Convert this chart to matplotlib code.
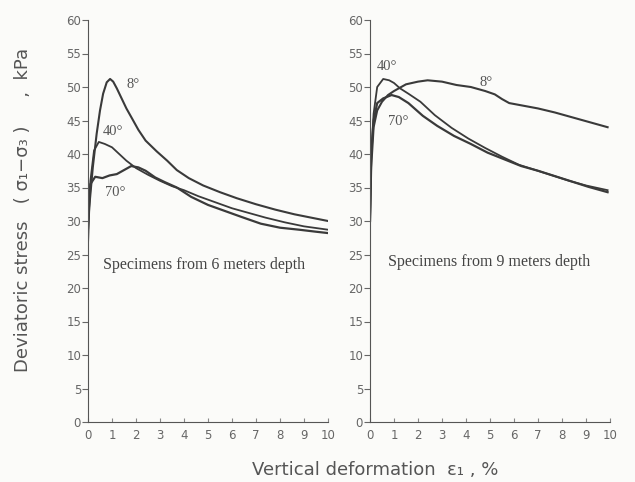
import matplotlib.pyplot as plt

# specimens from 6 m depth
strain_6m_8 = [0, 0.05, 0.2, 0.36, 0.5, 0.63, 0.78, 0.92, 1.05, 1.2, 1.4, 1.6, 1.82, 2.1, 2.4, 2.86,
               3.3, 3.7, 4.2, 4.8, 5.5, 6.2, 7.0, 7.8, 8.6, 9.3, 10]
stress_6m_8 = [27, 32, 38, 43, 46.5, 49, 50.7, 51.2, 50.8, 49.8, 48.3, 46.8, 45.4, 43.6, 42.0, 40.4,
               39.0, 37.6, 36.4, 35.3, 34.3, 33.4, 32.5, 31.7, 31.0, 30.5, 30.0]

strain_6m_40 = [0, 0.1, 0.25, 0.45, 0.7, 1.0, 1.3, 1.6, 2.0, 2.5, 3.0, 3.5, 4.0, 4.6, 5.3, 6.0,
                6.7, 7.4, 8.2, 9.0, 10]
stress_6m_40 = [30, 36, 40.5, 41.8, 41.5, 41.0, 40.0, 39.0, 37.9, 36.9, 36.0, 35.2, 34.6, 33.7, 32.8, 31.9,
                31.2, 30.5, 29.8, 29.2, 28.7]

strain_6m_70 = [0, 0.1, 0.3, 0.6, 0.9, 1.2, 1.5, 1.8, 2.1, 2.4, 2.8, 3.2, 3.7, 4.3, 5.0, 5.7,
                6.4, 7.2, 8.0, 8.8, 9.5, 10]
stress_6m_70 = [29, 35.5, 36.6, 36.4, 36.8, 37.0, 37.6, 38.2, 38.0, 37.5, 36.5, 35.8, 35.0, 33.6, 32.4, 31.5,
                30.6, 29.6, 29.0, 28.7, 28.4, 28.2]

# specimens from 9 m depth
strain_9m_8 = [0, 0.05, 0.15, 0.3, 0.5, 0.75, 1.0, 1.5, 2.0, 2.4, 3.0, 3.6, 4.2, 4.8, 5.2, 5.5,
               5.8, 6.4, 7.0, 7.7, 8.4, 9.1, 9.9]
stress_9m_8 = [30, 38, 44, 46.5, 47.8, 48.8, 49.4, 50.4, 50.8, 51.0, 50.8, 50.3, 50.0, 49.4, 48.9, 48.2,
               47.6, 47.2, 46.8, 46.2, 45.5, 44.8, 44.0]

strain_9m_40 = [0, 0.05, 0.15, 0.3, 0.55, 0.8, 1.0, 1.25, 1.6, 2.1, 2.7, 3.4, 4.1, 4.8, 5.5, 6.2,
                6.9, 7.6, 8.3, 9.0, 9.9]
stress_9m_40 = [30, 40, 46, 50.0, 51.2, 51.0, 50.6, 49.8, 49.0, 47.8, 45.8, 43.9, 42.3, 40.9, 39.6, 38.4,
                37.6, 36.8, 36.0, 35.3, 34.6]

strain_9m_70 = [0, 0.05, 0.15, 0.3, 0.55, 0.9, 1.2, 1.6, 2.2, 2.8, 3.5, 4.2, 4.9, 5.6, 6.3, 7.0,
                7.7, 8.4, 9.1, 9.9]
stress_9m_70 = [30, 40, 45, 47.6, 48.3, 48.8, 48.5, 47.6, 45.7, 44.2, 42.7, 41.5, 40.2, 39.2, 38.2, 37.5,
                36.7, 35.9, 35.1, 34.3]

x_ticks = list(range(0, 11))
y_ticks = list(range(0, 61, 5))

line_col = '#3a3a3a'
text_col = '#555555'

fig = plt.figure(figsize=(6.35, 4.82), dpi=100)
fig.patch.set_facecolor('#fbfbf9')

ax1 = fig.add_axes([88 / 635, 1 - 422 / 482, 240 / 635, 402 / 482])
ax2 = fig.add_axes([370 / 635, 1 - 422 / 482, 240 / 635, 402 / 482])

ax1.plot(strain_6m_8, stress_6m_8, color=line_col, lw=1.5)
ax1.plot(strain_6m_40, stress_6m_40, color=line_col, lw=1.3)
ax1.plot(strain_6m_70, stress_6m_70, color=line_col, lw=1.6)

ax2.plot(strain_9m_8, stress_9m_8, color=line_col, lw=1.5)
ax2.plot(strain_9m_40, stress_9m_40, color=line_col, lw=1.3)
ax2.plot(strain_9m_70, stress_9m_70, color=line_col, lw=1.6)

for ax in (ax1, ax2):
    ax.set_facecolor('none')
    ax.set_xlim(0, 10)
    ax.set_ylim(0, 60)
    ax.set_xticks(x_ticks)
    ax.set_yticks(y_ticks)
    ax.spines['top'].set_visible(False)
    ax.spines['right'].set_visible(False)
    ax.spines['left'].set_color('#555555')
    ax.spines['bottom'].set_color('#555555')
    ax.tick_params(axis='y', direction='out', length=4, pad=1, colors='#666666', labelsize=8.5)
    ax.tick_params(axis='x', direction='in', length=3, pad=5, colors='#888888', labelsize=8.5,
                   labelcolor='#666666')

serif = 'Liberation Serif'
ax1.text(1.6, 50.4, '8°', family=serif, fontsize=10.5, color=text_col, va='center')
ax1.text(0.63, 43.4, '40°', family=serif, fontsize=10.5, color=text_col, va='center')
ax1.text(0.7, 34.2, '70°', family=serif, fontsize=10.5, color=text_col, va='center')
ax1.text(0.63, 23.4, 'Specimens from 6 meters depth', family=serif, fontsize=11.5,
         color='#444444', va='center')

ax2.text(0.28, 53.0, '40°', family=serif, fontsize=10.5, color=text_col, va='center')
ax2.text(0.75, 44.9, '70°', family=serif, fontsize=10.5, color=text_col, va='center')
ax2.text(4.58, 50.6, '8°', family=serif, fontsize=10.5, color=text_col, va='center')
ax2.text(0.75, 23.9, 'Specimens from 9 meters depth', family=serif, fontsize=11.5,
         color='#444444', va='center')

fig.text(23 / 635, 1 - 210 / 482, 'Deviatoric stress   ( σ₁−σ₃ )     ,  kPa', rotation=90,
         ha='center', va='center', fontsize=13, color=text_col)
fig.text(375 / 635, 1 - 470 / 482, 'Vertical deformation  ε₁ , %', ha='center', va='center',
         fontsize=13, color=text_col)

plt.savefig('out.png', dpi=100, facecolor=fig.get_facecolor())
